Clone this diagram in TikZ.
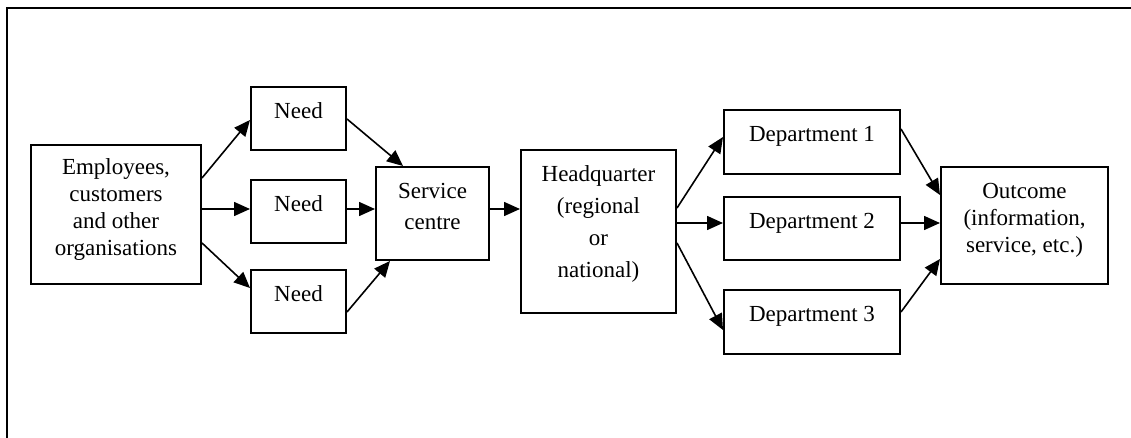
\documentclass[tikz,border=0pt]{standalone}
\usepackage{fontspec}
\setmainfont{Liberation Serif}
\usetikzlibrary{arrows.meta}
\newcommand{\bt}[5]{\parbox[t][#2][t]{#1}{\centering\fontsize{11.5pt}{#3}\selectfont\rule{0pt}{#4}#5}}
\begin{document}
\begin{tikzpicture}[x=0.5pt,y=-0.5pt,
  bx/.style={draw, line width=1pt, inner sep=0pt, anchor=north west},
  arr/.style={line width=0.8pt, -{Triangle[length=8pt,width=7pt]}},
  frm/.style={line width=1.1pt}]
\useasboundingbox (0,0) rectangle (1131,438);
\draw[frm] (7,438) -- (7,8) -- (1131,8);
% nodes
\node[bx] (emp) at (30,144) {\bt{85pt}{69.5pt}{13.5pt}{15pt}{Employees,\\customers\\and other\\organisations}};
\node[bx] (n1) at (250,86) {\bt{47.5pt}{31.5pt}{13.5pt}{16pt}{Need}};
\node[bx] (n2) at (250,179) {\bt{47.5pt}{31.5pt}{13.5pt}{16pt}{Need}};
\node[bx] (n3) at (250,269) {\bt{47.5pt}{31.5pt}{13.5pt}{16pt}{Need}};
\node[bx] (svc) at (375,166) {\bt{56.5pt}{46.5pt}{15.5pt}{16pt}{Service\\centre}};
\node[bx] (hq) at (520,149) {\bt{77.5pt}{81.5pt}{16pt}{16pt}{Headquarter\\(regional\\or\\national)}};
\node[bx] (d1) at (723,109) {\bt{88pt}{32pt}{13.5pt}{16pt}{Department 1}};
\node[bx] (d2) at (723,196) {\bt{88pt}{31.5pt}{13.5pt}{16pt}{Department 2}};
\node[bx] (d3) at (723,289) {\bt{88pt}{32pt}{13.5pt}{16pt}{Department 3}};
\node[bx] (out) at (940,166) {\bt{83.5pt}{58.5pt}{13.5pt}{16pt}{Outcome\\(information,\\service, etc.)}};
% connectors
\draw[arr] (emp.east |- {(0,178)}) -- (n1.west |- {(0,120)});
\draw[arr] (emp.east |- {(0,209)}) -- (n2.west |- {(0,209)});
\draw[arr] (emp.east |- {(0,243)}) -- (n3.west |- {(0,288)});
\draw[arr] (n1.east |- {(0,119)}) -- (svc.north -| {(403,0)});
\draw[arr] (n2.east |- {(0,209)}) -- (svc.west |- {(0,209)});
\draw[arr] (n3.east |- {(0,312)}) -- (svc.south -| {(390,0)});
\draw[arr] (svc.east |- {(0,209)}) -- (hq.west |- {(0,209)});
\draw[arr] (hq.east |- {(0,208)}) -- (d1.west |- {(0,137)});
\draw[arr] (hq.east |- {(0,223)}) -- (d2.west |- {(0,223)});
\draw[arr] (hq.east |- {(0,243)}) -- (d3.west |- {(0,330)});
\draw[arr] (d1.east |- {(0,129)}) -- (out.west |- {(0,195)});
\draw[arr] (d2.east |- {(0,223)}) -- (out.west |- {(0,223)});
\draw[arr] (d3.east |- {(0,312)}) -- (out.west |- {(0,259)});
\end{tikzpicture}
\end{document}
